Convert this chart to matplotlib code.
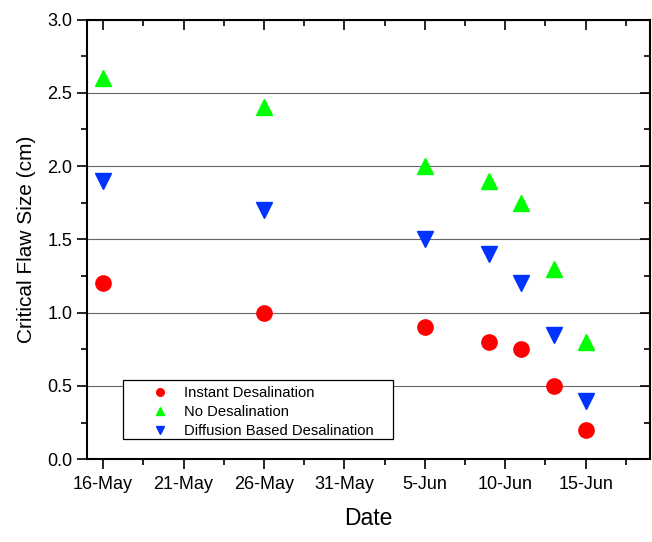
import datetime as dt
import matplotlib
matplotlib.use('Agg')
import matplotlib.pyplot as plt
import matplotlib.dates as mdates
from matplotlib.patches import Rectangle
from matplotlib.ticker import MultipleLocator, FormatStrFormatter

plt.rcParams['font.family'] = ['Liberation Sans', 'DejaVu Sans']

dates = ['2016-05-16', '2016-05-26', '2016-06-05', '2016-06-09',
         '2016-06-11', '2016-06-13', '2016-06-15']
instant = [1.2, 1.0, 0.9, 0.8, 0.75, 0.5, 0.2]
no_desal = [2.6, 2.4, 2.0, 1.9, 1.75, 1.3, 0.8]
diffusion = [1.9, 1.7, 1.5, 1.4, 1.2, 0.85, 0.4]

x = [dt.datetime.strptime(d, '%Y-%m-%d') for d in dates]

fig = plt.figure(figsize=(6.52, 5.42), dpi=100)
ax = fig.add_axes([0.1334, 0.1526, 0.8636, 0.8114])

ax.plot(x, instant, 'o', color='#ff0000', markersize=11, label='Instant Desalination')
ax.plot(x, no_desal, '^', color='#00ff00', markersize=12, label='No Desalination')
ax.plot(x, diffusion, 'v', color='#0033ff', markersize=12, label='Diffusion Based Desalination')

ax.set_xlim(dt.datetime(2016, 5, 15), dt.datetime(2016, 6, 19))
ax.set_ylim(0, 3.0)

ticks = [dt.datetime(2016, 5, 16) + dt.timedelta(days=5 * i) for i in range(7)]
ax.set_xticks(ticks)
ax.xaxis.set_major_formatter(mdates.DateFormatter('%-d-%b'))
ax.set_xticks([mdates.date2num(t) + 2.5 for t in ticks], minor=True)
ax.yaxis.set_major_locator(MultipleLocator(0.5))
ax.yaxis.set_minor_locator(MultipleLocator(0.25))
ax.yaxis.set_major_formatter(FormatStrFormatter('%.1f'))

ax.grid(axis='y', which='major', color='#666666', linewidth=0.8)
ax.set_axisbelow(True)

ax.tick_params(which='both', top=True, right=True, labelsize=13, width=1.2)
ax.tick_params(which='major', length=7)
ax.tick_params(which='minor', length=4)
ax.tick_params(axis='x', which='major', pad=5)
# bottom/left ticks point out, top/right ticks point in
for t in ax.xaxis.get_ticklines(minor=False)[1::2] + ax.xaxis.get_ticklines(minor=True)[1::2]:
    t.set_marker(3)
for t in ax.yaxis.get_ticklines(minor=False)[1::2] + ax.yaxis.get_ticklines(minor=True)[1::2]:
    t.set_marker(0)
for s in ax.spines.values():
    s.set_linewidth(1.5)

ax.set_xlabel('Date', fontsize=16.5, labelpad=10)
ax.set_ylabel('Critical Flaw Size (cm)', fontsize=15, labelpad=8)

# legend box drawn separately so it can be wider than the entries
ax.add_patch(Rectangle((0.0634, 0.046), 0.48, 0.134, transform=ax.transAxes,
                       facecolor='white', edgecolor='black', linewidth=0.9, zorder=3))
leg = ax.legend(loc='upper left', bbox_to_anchor=(0.1036, 0.166), borderaxespad=0,
                fontsize=10.6, markerscale=0.5, frameon=False, borderpad=0,
                handlelength=2.0, handletextpad=0.6, labelspacing=0.32)
leg.set_zorder(5)

fig.savefig('out.png', dpi=100)
